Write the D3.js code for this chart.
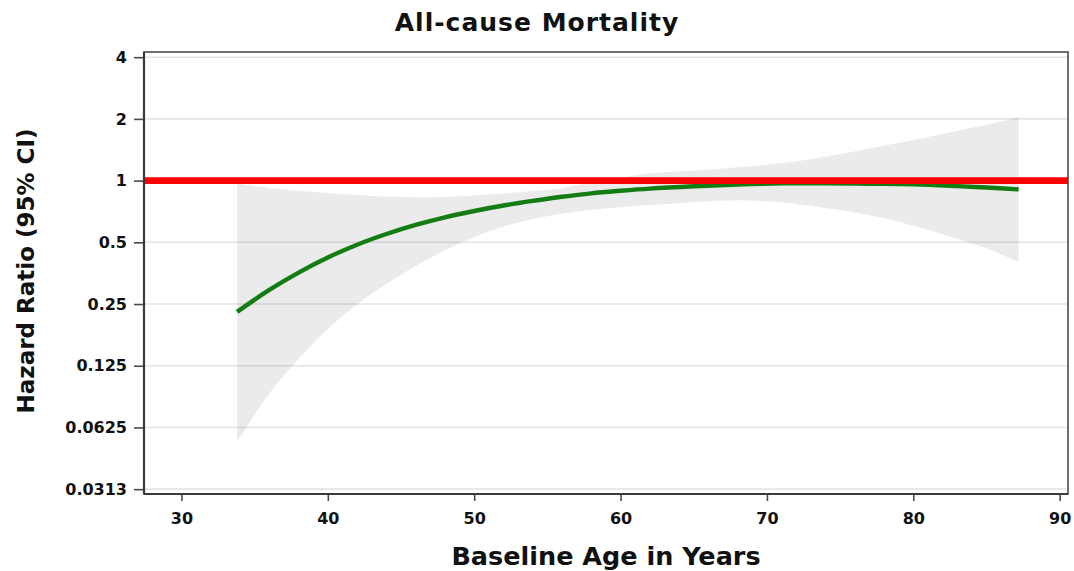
<!DOCTYPE html>
<html>
<head>
<meta charset="utf-8">
<script src="https://cdn.jsdelivr.net/npm/d3@7/dist/d3.min.js"></script>
<style>
  html, body { margin: 0; padding: 0; background: #ffffff; }
  svg { display: block; }
  text { font-family: "DejaVu Sans", Verdana, sans-serif; font-weight: bold; fill: #111; }
</style>
</head>
<body>
<svg id="chart" width="1074" height="571"></svg>
<script>
// Baseline age grid (years) at which the hazard ratio estimate is shown
const ages = [33.8, 36, 38, 40, 42, 44, 46, 48, 50, 52, 54, 56, 58, 60, 62, 65, 68, 71, 74, 77, 80, 83, 85, 87.2];

// Hazard ratio estimate and its 95% confidence limits
const hazardRatio = [0.229, 0.293, 0.356, 0.422, 0.487, 0.549, 0.608, 0.662, 0.711, 0.756, 0.796, 0.834, 0.867, 0.892, 0.914, 0.938, 0.957, 0.969, 0.971, 0.966, 0.959, 0.940, 0.925, 0.906];
const upperCI = [0.967, 0.920, 0.890, 0.871, 0.851, 0.836, 0.830, 0.833, 0.846, 0.866, 0.889, 0.919, 0.975, 1.035, 1.085, 1.121, 1.161, 1.214, 1.306, 1.434, 1.580, 1.753, 1.873, 2.035];
const lowerCI = [0.053, 0.0914, 0.135, 0.189, 0.249, 0.313, 0.383, 0.457, 0.530, 0.597, 0.650, 0.690, 0.719, 0.741, 0.760, 0.785, 0.801, 0.782, 0.735, 0.678, 0.603, 0.521, 0.467, 0.401];

// Reference value (no effect)
const referenceHR = [1];

// Axis ticks
const xTicks = [30, 40, 50, 60, 70, 80, 90];
const yTicks = [0.03125, 0.0625, 0.125, 0.25, 0.5, 1, 2, 4];
const yTickLabels = ["0.0313", "0.0625", "0.125", "0.25", "0.5", "1", "2", "4"];

// Text
const titleText = "All-cause Mortality";
const xLabelText = "Baseline Age in Years";
const yLabelText = "Hazard Ratio (95% CI)";

// ---- layout ----
const plot = { left: 144, right: 1068, top: 52, bottom: 494 };
const xDomain = [27.44, 90.57];
const yDomain = [0.0296, 4.24];

const svg = d3.select("#chart");

const x = d3.scaleLinear().domain(xDomain).range([plot.left, plot.right]);
const y = d3.scaleLog().base(2).domain(yDomain).range([plot.bottom, plot.top]);

const rows = ages.map((a, i) => ({ age: a, hr: hazardRatio[i], lo: lowerCI[i], hi: upperCI[i] }));

// horizontal grid lines at the y ticks
svg.append("g")
  .selectAll("line")
  .data(yTicks)
  .join("line")
  .attr("x1", plot.left).attr("x2", plot.right)
  .attr("y1", d => y(d)).attr("y2", d => y(d))
  .attr("stroke", "#e4e4e4")
  .attr("stroke-width", 1.6);

// confidence band
const band = d3.area()
  .x(d => x(d.age))
  .y0(d => y(d.lo))
  .y1(d => y(d.hi))
  .curve(d3.curveCatmullRom.alpha(0.5));

svg.append("path")
  .datum(rows)
  .attr("d", band)
  .attr("fill", "#000")
  .attr("fill-opacity", 0.08);

// hazard ratio curve
const line = d3.line()
  .x(d => x(d.age))
  .y(d => y(d.hr))
  .curve(d3.curveCatmullRom.alpha(0.5));

svg.append("path")
  .datum(rows)
  .attr("d", line)
  .attr("fill", "none")
  .attr("stroke", "#137d13")
  .attr("stroke-width", 4.4)
  .attr("stroke-linejoin", "round");

// reference line at HR = 1
svg.append("g")
  .selectAll("line")
  .data(referenceHR)
  .join("line")
  .attr("x1", plot.left).attr("x2", plot.right)
  .attr("y1", d => y(d)).attr("y2", d => y(d))
  .attr("stroke", "#ff0000")
  .attr("stroke-width", 6.6);

// plot frame
svg.append("rect")
  .attr("x", plot.left).attr("y", plot.top)
  .attr("width", plot.right - plot.left)
  .attr("height", plot.bottom - plot.top)
  .attr("fill", "none")
  .attr("stroke", "#4a4a4a")
  .attr("stroke-width", 1.6);

// y axis
const yAxis = svg.append("g")
  .attr("transform", `translate(${plot.left},0)`)
  .call(d3.axisLeft(y)
    .tickValues(yTicks)
    .tickFormat((d, i) => yTickLabels[i])
    .tickSize(10)
    .tickPadding(7));
yAxis.select(".domain").remove();
yAxis.selectAll(".tick line").attr("stroke", "#4a4a4a").attr("stroke-width", 1.6);
yAxis.selectAll(".tick text")
  .attr("font-family", "DejaVu Sans, Verdana, sans-serif")
  .attr("font-weight", "bold")
  .attr("font-size", 16)
  .attr("fill", "#111");

// x axis
const xAxis = svg.append("g")
  .attr("transform", `translate(0,${plot.bottom})`)
  .call(d3.axisBottom(x)
    .tickValues(xTicks)
    .tickFormat(d3.format("d"))
    .tickSize(7)
    .tickPadding(12));
xAxis.select(".domain").remove();
xAxis.selectAll(".tick line").attr("stroke", "#4a4a4a").attr("stroke-width", 1.6);
xAxis.selectAll(".tick text")
  .attr("font-family", "DejaVu Sans, Verdana, sans-serif")
  .attr("font-weight", "bold")
  .attr("font-size", 16)
  .attr("fill", "#111");

// heavier bottom and left axis lines
svg.append("line")
  .attr("x1", plot.left).attr("x2", plot.right)
  .attr("y1", plot.bottom).attr("y2", plot.bottom)
  .attr("stroke", "#3a3a3a").attr("stroke-width", 2.2);
svg.append("line")
  .attr("x1", plot.left).attr("x2", plot.left)
  .attr("y1", plot.top).attr("y2", plot.bottom)
  .attr("stroke", "#3a3a3a").attr("stroke-width", 2.2);

// title
svg.append("text")
  .attr("x", 537).attr("y", 31)
  .attr("text-anchor", "middle")
  .attr("font-size", 25)
  .attr("letter-spacing", 1)
  .text(titleText);

// x axis label
svg.append("text")
  .attr("x", (plot.left + plot.right) / 2).attr("y", 565)
  .attr("text-anchor", "middle")
  .attr("font-size", 25.5)
  .text(xLabelText);

// y axis label
svg.append("text")
  .attr("transform", "translate(33.5,271) rotate(-90)")
  .attr("text-anchor", "middle")
  .attr("font-size", 23)
  .text(yLabelText);
</script>
</body>
</html>
